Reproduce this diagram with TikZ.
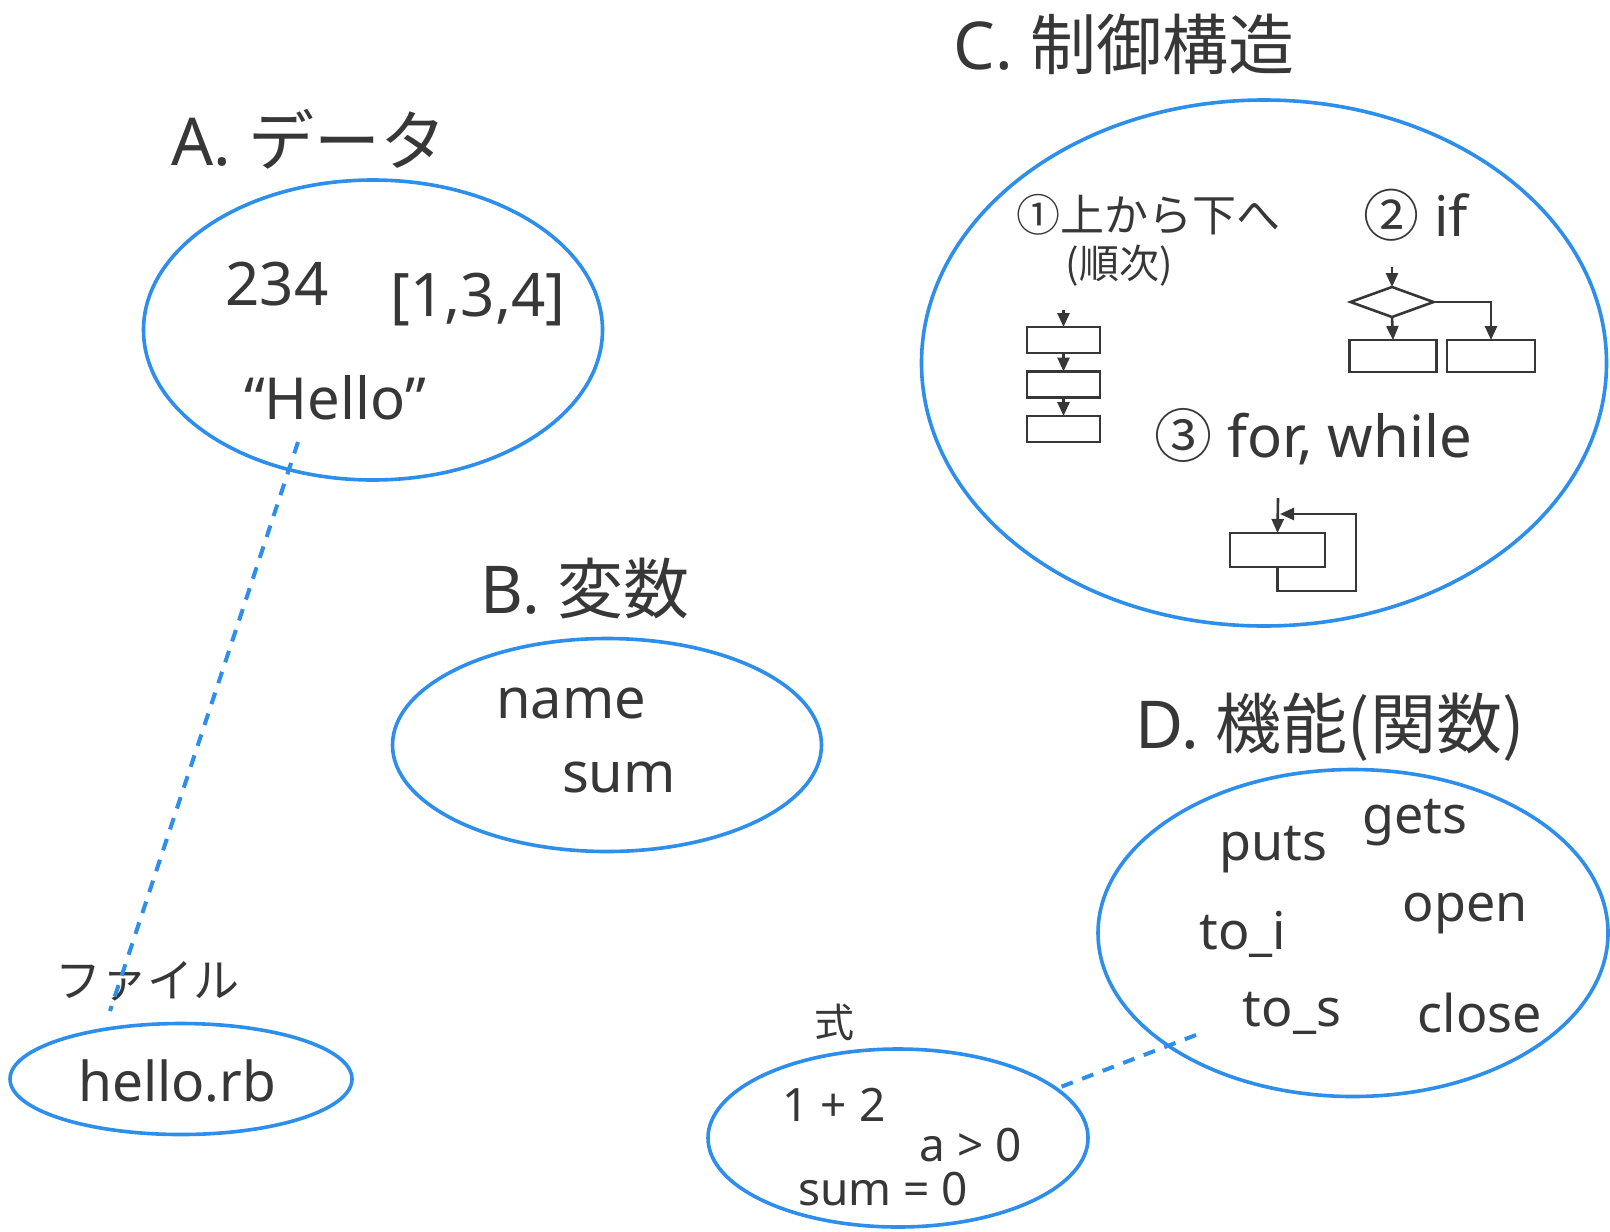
\documentclass[tikz,border=0pt]{standalone}
\usepackage{fontspec}
\setmainfont{Noto Sans}
\newfontfamily\jp{Noto Sans CJK JP}
\usetikzlibrary{shapes.geometric,arrows.meta}
\definecolor{bl}{RGB}{45,142,235}
\definecolor{tx}{RGB}{55,55,55}
\begin{document}
\begin{tikzpicture}[x=0.5pt,y=-0.5pt,
 ell/.style={ellipse,draw=bl,line width=1.8pt,inner sep=0pt,outer sep=0pt},
 txt/.style={text=tx,inner sep=0pt,anchor=center},
 ttl/.style={txt,font=\fontsize{33}{40}\selectfont},
 big/.style={txt,font=\fontsize{30}{36}\selectfont},
 mid/.style={txt,font=\fontsize{26}{32}\selectfont},
 sml/.style={txt,font=\fontsize{23}{28}\selectfont},
 fbox/.style={draw=tx,line width=1.3pt,rectangle,inner sep=0pt,outer sep=0pt,minimum width=36.5pt,minimum height=13pt},
 farr/.style={draw=tx,line width=1.3pt,-{Triangle[length=7pt,width=6pt]}},
 dsh/.style={draw=bl,line width=2pt,dash pattern=on 6pt off 5pt}]
\useasboundingbox[fill=white] (0,0) rectangle (1610,1231);

% A
\node[ttl] (tA) at (309,139) {A. {\jp データ}};
\node[ell,minimum width=229.5pt,minimum height=150pt] (eA) at (373,330) {};
\node[big] (a234) at (277,284) {234};
\node[big] (alist) at (478,300) {[1,3,4]};
\node[txt,font=\fontsize{29}{34}\selectfont] (ahello) at (335,398) {“Hello”};

% B
\node[ttl] (tB) at (585,588) {B. {\jp 変数}};
\node[ell,minimum width=214.5pt,minimum height=106.5pt] (eB) at (607,745) {};
\node[txt,font=\fontsize{28}{34}\selectfont] (bname) at (571,703) {name};
\node[txt,font=\fontsize{28}{34}\selectfont] (bsum) at (619,777) {sum};

% C
\node[ttl] (tC) at (1124,44) {C. {\jp 制御構造}};
\node[ell,minimum width=342.5pt,minimum height=263pt] (eC) at (1264,363) {};
\node[txt,font=\fontsize{22}{26}\selectfont\jp] (c1) at (1148,215) {①上から下へ};
\node[txt,font=\fontsize{20}{24}\selectfont\jp] (c1b) at (1119,266) {(順次)};
\node[txt,font=\fontsize{28}{32}\selectfont] (c2) at (1416,215) {{\jp ②} if};
\node[txt,font=\fontsize{29}{34}\selectfont] (c3) at (1313,437) {{\jp ③} for, while};

% sequence
\coordinate (sin) at (1063.5,310);
\node[fbox] (s1) at (1063.5,340) {};
\node[fbox] (s2) at (1063.5,384.5) {};
\node[fbox] (s3) at (1063.5,429) {};
\draw[farr] (sin) -- (s1.north);
\draw[farr] (s1.south) -- (s2.north);
\draw[farr] (s2.south) -- (s3.north);

% if
\coordinate (iin) at (1392,267);
\node[diamond,draw=tx,line width=1.3pt,inner sep=0pt,outer sep=0pt,minimum width=41.5pt,minimum height=15pt] (dia) at (1392,302) {};
\node[fbox,minimum width=43.5pt,minimum height=16pt] (iL) at (1393,356) {};
\node[fbox,minimum width=44pt,minimum height=16pt] (iR) at (1491,356) {};
\draw[farr] (iin) -- (dia.north);
\draw[farr] (dia.south) -- (iL.north);
\draw[farr] (dia.east) -| (iR.north);

% loop
\coordinate (lin) at (1278,498);
\node[fbox,minimum width=47.5pt,minimum height=17pt] (lb) at (1277.5,550) {};
\coordinate (lcor) at (1356,591);
\coordinate (ltop) at (1280,514);
\draw[farr] (lin) -- (lb.north);
\draw[farr] (lb.south) |- (lcor) |- (ltop);

% D
\node[ttl] (tD) at (1330,727) {D. {\jp 機能(関数)}};
\node[ell,minimum width=255pt,minimum height=163.5pt] (eD) at (1353,933) {};
\node[mid] (dputs) at (1273,850) {puts};
\node[mid] (dgets) at (1415,823) {gets};
\node[mid] (dtoi) at (1243,934) {to\_i};
\node[mid] (dopen) at (1465,914) {open};
\node[mid] (dtos) at (1292,1013) {to\_s};
\node[mid] (dclose) at (1480,1013) {close};

% expressions
\node[txt,font=\fontsize{20}{24}\selectfont\jp] (tE) at (834,1022) {式};
\node[ell,minimum width=190pt,minimum height=89pt] (eE) at (898,1138) {};
\node[sml] (e1) at (834,1105) {1 + 2};
\node[sml] (e2) at (971,1145) {a > 0};
\node[sml] (e3) at (883,1189) {sum = 0};

% file
\node[txt,font=\fontsize{23}{27}\selectfont\jp] (tF) at (147,981) {ファイル};
\node[ell,minimum width=171pt,minimum height=55.5pt] (eF) at (181,1079) {};
\node[txt,font=\fontsize{27.5}{33}\selectfont] (fname) at (177,1081) {hello.rb};

% dashed connectors
\coordinate (dA1) at (298,442);
\coordinate (dA2) at (110,1011);
\draw[dsh] (dA1) -- (dA2);
\coordinate (dD1) at (1196,1035);
\coordinate (dD2) at (1058,1088);
\draw[dsh] (dD1) -- (dD2);
\end{tikzpicture}
\end{document}
